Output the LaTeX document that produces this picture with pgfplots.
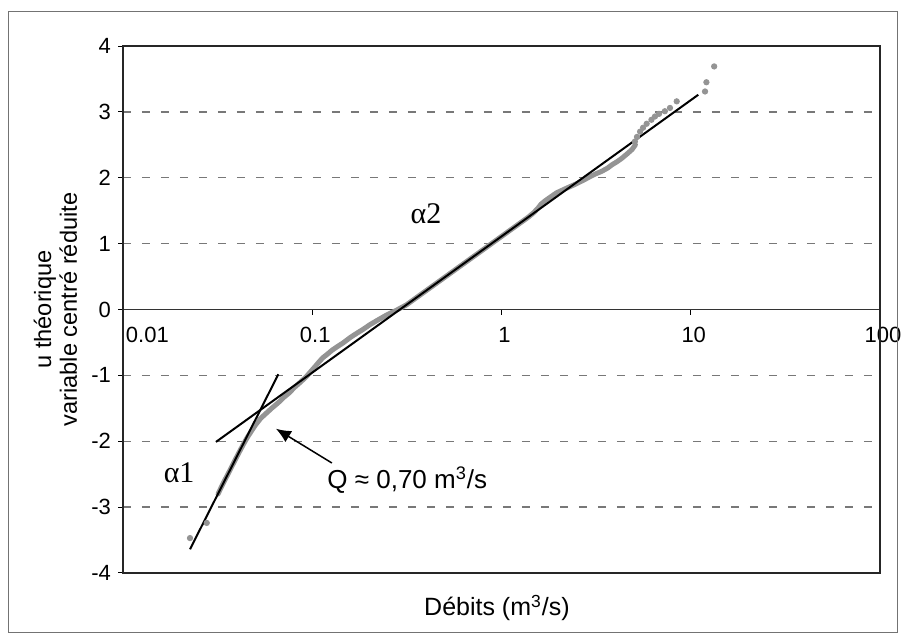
\documentclass[border=0pt]{standalone}
\usepackage{fontspec}
\setmainfont{Liberation Sans}
\newfontfamily\seriffont{Liberation Serif}
\usepackage{pgfplots}
\pgfplotsset{compat=1.18}
\usepackage{pgfplotstable}
\usetikzlibrary{arrows.meta}
\definecolor{dotgray}{RGB}{148,148,148}
\definecolor{gridgray}{RGB}{120,120,120}

\pgfplotstableread{
x y
0.0318 -2.80
0.0324 -2.75
0.0337 -2.65
0.0351 -2.55
0.0366 -2.45
0.0381 -2.35
0.0397 -2.25
0.0414 -2.15
0.0432 -2.05
0.0452 -1.95
0.0476 -1.85
0.0502 -1.75
0.0535 -1.65
0.0574 -1.57
0.0610 -1.50
0.0640 -1.45
0.0670 -1.40
0.0710 -1.33
0.0760 -1.26
0.0800 -1.19
0.0861 -1.11
0.0930 -1.02
0.0990 -0.93
0.1040 -0.86
0.1090 -0.79
0.1140 -0.73
0.1200 -0.68
0.1270 -0.62
0.1346 -0.57
0.1450 -0.51
0.1580 -0.43
0.1720 -0.36
0.1860 -0.30
0.2018 -0.23
0.2220 -0.16
0.2450 -0.09
0.2790 -0.01
0.3144 0.07
0.3398 0.14
0.3673 0.21
0.3971 0.28
0.4293 0.35
0.4642 0.42
0.5018 0.49
0.5425 0.56
0.5864 0.63
0.6341 0.70
0.6855 0.77
0.7413 0.84
0.8013 0.91
0.8661 0.98
0.9365 1.05
1.012 1.12
1.094 1.19
1.183 1.26
1.279 1.33
1.383 1.40
1.480 1.47
1.560 1.54
1.620 1.60
1.700 1.65
1.820 1.71
1.950 1.77
2.200 1.84
2.450 1.90
2.700 1.96
2.950 2.02
3.150 2.06
3.400 2.10
3.650 2.15
3.850 2.20
4.060 2.24
4.300 2.29
4.600 2.36
4.900 2.43
5.100 2.50
}\densedata

\pgfplotstableread{
x y
0.0226 -3.47
0.0277 -3.24
5.07 2.55
5.20 2.62
5.40 2.70
5.60 2.76
5.85 2.82
6.20 2.88
6.47 2.93
6.80 2.97
7.30 3.01
7.77 3.06
8.43 3.16
11.9 3.31
12.1 3.45
13.3 3.69
}\sparsedata

\begin{document}
\begin{tikzpicture}
\begin{axis}[
  at={(0,0)}, anchor=south west,
  scale only axis, width=378.5pt, height=263.5pt,
  xmode=log, xmin=0.01, xmax=100, ymin=-4, ymax=4,
  axis x line*=middle, axis y line*=left,
  hide obscured x ticks=false, hide obscured y ticks=false,
  clip=false,
  xtick={0.01,0.1,1,10,100},
  xticklabels={\makebox[0pt][l]{0.01},0.1,1,10,100},
  ytick={-4,-3,-2,-1,0,1,2,3,4},
  yticklabels={-4,-3,-2,-1,0,1,2,3,4},
  xminorticks=false, yminorticks=false,
  tick align=outside,
  major tick length=2.5pt,
  tick style={black, line width=0.5pt},
  x axis line style={black!80, line width=0.7pt},
  y axis line style={black!85, line width=1pt},
  xticklabel style={font=\fontsize{11}{13}\selectfont, anchor=north, yshift=-3pt, xshift=1.5pt},
  yticklabel style={font=\fontsize{11}{13}\selectfont},
  ymajorgrids,
  grid style={gridgray, line width=0.7pt, dash pattern=on 4pt off 5.5pt},
]
\addplot[draw=dotgray, line width=2.5pt, line cap=round, line join=round, no markers] table {\densedata};
\addplot[only marks, mark=*, mark size=1.35pt, draw=dotgray, fill=dotgray] table {\sparsedata};
% fitted lines alpha1 and alpha2
\addplot[black, line width=1pt, no markers] coordinates {(0.0226,-3.64) (0.0662,-0.983)};
\addplot[black, line width=1pt, no markers] coordinates {(0.0310,-2.01) (10.96,3.26)};
% frame
\draw[black!85, line width=1pt] (rel axis cs:0,0) rectangle (rel axis cs:1,1);
% annotations
\node[font=\seriffont\fontsize{15}{15}\selectfont] at (axis cs:0.399,1.46) {α2};
\node[font=\seriffont\fontsize{15}{15}\selectfont] at (axis cs:0.0198,-2.48) {α1};
\draw[-{Latex[length=7.5pt,width=6.5pt]}, line width=0.75pt] (axis cs:0.127,-2.33) -- (axis cs:0.0643,-1.81);
\node[anchor=west, inner sep=0pt, font=\fontsize{13}{15}\selectfont] at (axis cs:0.1197,-2.59) {Q ≈ 0,70 m\textsuperscript{3}/s};
\node[font=\fontsize{12.5}{14}\selectfont] at (axis description cs:0.494,-0.0664) {Débits (m\textsuperscript{3}/s)};
\node[rotate=90, align=center, font=\fontsize{11.8}{12.9}\selectfont] at (axis description cs:-0.0892,0.5) {u théorique\\variable centré réduite};
\end{axis}
\draw[black!55, line width=0.5pt] (-57pt,280.5pt) rectangle (387pt,-30pt);
\pgfresetboundingbox
\useasboundingbox (-61.5pt,286.5pt) rectangle (391.5pt,-32pt);
\end{tikzpicture}
\end{document}
